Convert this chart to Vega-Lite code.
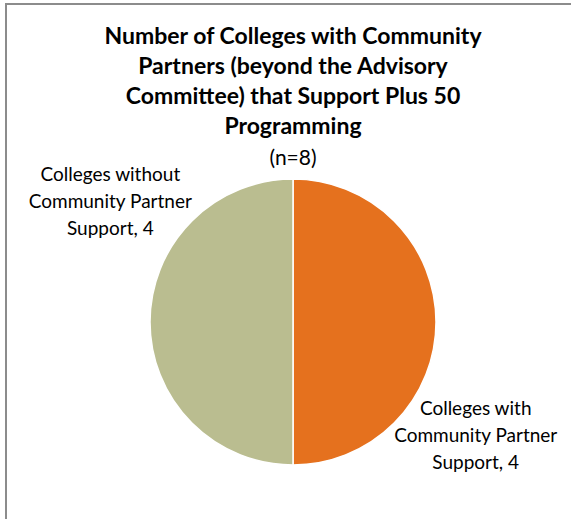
{
  "$schema": "https://vega.github.io/schema/vega-lite/v6.json",
  "width": 574,
  "height": 636,
  "autosize": "none",
  "padding": {"left": 6, "top": 4, "right": 0, "bottom": 0},
  "background": "white",
  "view": {"stroke": "#8c8c8c", "strokeWidth": 2},
  "title": {
    "text": ["Number of Colleges with  Community", "Partners (beyond the Advisory", "Committee) that Support Plus 50", "Programming"],
    "subtitle": "(n=8)",
    "anchor": "middle",
    "frame": "group",
    "orient": "top",
    "offset": -165,
    "font": "Lato",
    "fontSize": 23,
    "fontWeight": "bold",
    "lineHeight": 30,
    "color": "black",
    "subtitleFont": "Lato",
    "subtitleFontSize": 21,
    "subtitleColor": "black",
    "subtitlePadding": 9
  },
  "data": {
    "values": [
      {"category": "Colleges with Community Partner Support", "label": "Colleges with\nCommunity Partner\nSupport, 4", "count": 4},
      {"category": "Colleges without Community Partner Support", "label": "Colleges without\nCommunity Partner\nSupport, 4", "count": 4}
    ]
  },
  "encoding": {
    "theta": {"field": "count", "type": "quantitative", "stack": true},
    "order": {"field": "category", "sort": "ascending"}
  },
  "layer": [
    {
      "mark": {"type": "arc", "outerRadius": 143, "stroke": "white", "strokeWidth": 1.5},
      "encoding": {
        "color": {
          "field": "category",
          "type": "nominal",
          "scale": {"domain": ["Colleges with Community Partner Support", "Colleges without Community Partner Support"], "range": ["#E5711E", "#BABD90"]},
          "legend": null
        }
      }
    },
    {
      "mark": {"type": "text", "radius": 217, "thetaOffset": 0.57, "dy": -30, "font": "Lato", "fontSize": 19, "lineHeight": 27, "lineBreak": "\n", "align": "center", "baseline": "middle", "color": "black"},
      "encoding": {
        "text": {"field": "label"},
        "detail": {"field": "category"}
      }
    }
  ]
}
